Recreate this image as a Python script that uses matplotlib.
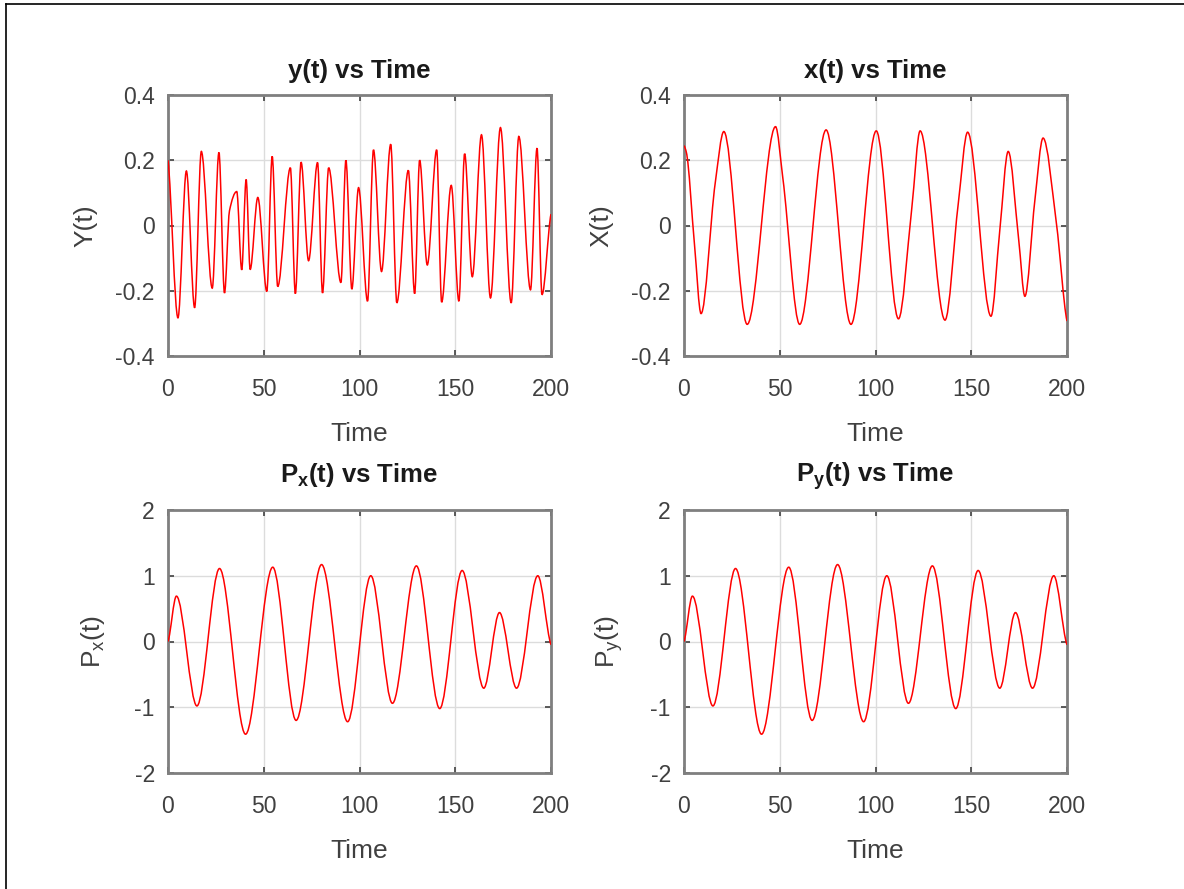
import numpy as np
import matplotlib
matplotlib.use("Agg")
import matplotlib.pyplot as plt
from matplotlib.path import Path
from matplotlib.patches import PathPatch
from matplotlib.lines import Line2D

plt.rcParams['font.family'] = ['Liberation Sans', 'DejaVu Sans']
plt.rcParams['mathtext.default'] = 'regular'
plt.rcParams['axes.unicode_minus'] = False

# ---- data (turning points / shoulders of each curve) ----
y_time = [0, 5.2, 9.6, 13.9, 17.4, 23.1, 26.6, 29.5, 32.1, 35.9, 38.5, 40.8, 42.9,
          46.9, 51.6, 54.4, 57.3, 63.9, 66.5, 69.5, 73.4, 78.1, 80.7, 83.9, 90.3,
          92.9, 96.0, 99.5, 104.2, 107.3, 111.5, 116.3, 119.5, 125.5, 128.8, 131.4,
          135.4, 140.3, 142.9, 147.9, 151.9, 154.9, 158.9, 163.7, 168.4, 173.6,
          179.2, 183.2, 189.3, 192.7, 195.3, 200]
y_vals = [0.20, -0.283, 0.167, -0.252, 0.227, -0.192, 0.224, -0.207, 0.045, 0.104,
          -0.136, 0.141, -0.135, 0.086, -0.202, 0.212, -0.187, 0.177, -0.209, 0.194,
          -0.108, 0.193, -0.207, 0.177, -0.175, 0.200, -0.195, 0.116, -0.232, 0.232,
          -0.141, 0.249, -0.237, 0.169, -0.209, 0.200, -0.121, 0.232, -0.235, 0.123,
          -0.232, 0.220, -0.157, 0.278, -0.222, 0.300, -0.237, 0.273, -0.197, 0.237,
          -0.212, 0.035]

x_time = [0, 1.2, 5.5, 8.9, 16.3, 20.8, 33.0, 47.8, 51.6, 60.4, 74.2, 87.2, 100.4,
          112.0, 118.9, 123.3, 136.3, 143.2, 148.1, 160.3, 164.9, 169.3, 174.8,
          178.0, 183.2, 187.5, 194.5, 200]
x_vals = [0.245, 0.225, -0.06, -0.270, 0.130, 0.288, -0.303, 0.303, 0.146, -0.303,
          0.293, -0.303, 0.290, -0.286, 0.050, 0.290, -0.290, 0.066, 0.286, -0.278,
          -0.015, 0.227, -0.045, -0.217, 0.076, 0.268, 0.005, -0.293]

px_time = [0, 4.4, 15.1, 26.9, 40.5, 54.7, 66.9, 80.2, 93.8, 105.9, 117.2, 129.7,
           141.9, 153.6, 164.9, 173.1, 182.0, 193.1, 200]
px_vals = [0.0, 0.69, -0.98, 1.11, -1.41, 1.13, -1.20, 1.17, -1.22, 1.00, -0.94,
           1.15, -1.02, 1.08, -0.71, 0.44, -0.71, 1.00, -0.05]

py_time = [0, 4.4, 15.1, 26.9, 40.5, 54.7, 66.9, 80.2, 93.8, 105.9, 117.2, 129.7,
           141.9, 153.6, 164.9, 173.1, 182.0, 193.1, 200]
py_vals = [0.0, 0.69, -0.98, 1.11, -1.41, 1.13, -1.20, 1.17, -1.22, 1.00, -0.94,
           1.15, -1.02, 1.08, -0.71, 0.44, -0.71, 1.00, -0.05]

time_ticks = [0, 50, 100, 150, 200]
small_ticks = [-0.4, -0.2, 0, 0.2, 0.4]
small_labels = ['-0.4', '-0.2', '0', '0.2', '0.4']
big_ticks = [-2, -1, 0, 1, 2]
big_labels = ['-2', '-1', '0', '1', '2']


def smooth_path(t, v):
    """Monotone (PCHIP-style) cubic Bezier path through the read points."""
    t = np.asarray(t, float)
    v = np.asarray(v, float)
    h = np.diff(t)
    d = np.diff(v) / h
    m = np.zeros_like(v)
    for i in range(1, len(v) - 1):
        if d[i - 1] * d[i] <= 0:
            m[i] = 0.0
        else:
            w1 = 2 * h[i] + h[i - 1]
            w2 = h[i] + 2 * h[i - 1]
            m[i] = (w1 + w2) / (w1 / d[i - 1] + w2 / d[i])
    m[0] = d[0] * 0.5
    m[-1] = d[-1] * 0.5
    verts = [(t[0], v[0])]
    codes = [Path.MOVETO]
    for i in range(len(t) - 1):
        verts += [(t[i] + h[i] / 3, v[i] + m[i] * h[i] / 3),
                  (t[i + 1] - h[i] / 3, v[i + 1] - m[i + 1] * h[i] / 3),
                  (t[i + 1], v[i + 1])]
        codes += [Path.CURVE4] * 3
    return Path(verts, codes)


fig = plt.figure(figsize=(11.84, 8.89), dpi=100)
W, H = 1184, 889


def make_ax(l, r, top, bot):
    return fig.add_axes([l / W, 1 - bot / H, (r - l) / W, (bot - top) / H])


panels = [
    (make_ax(168, 551, 95, 356), y_time, y_vals, 'y(t) vs Time', 'Y(t)', small_ticks, small_labels, 0.4, 12, -0.185),
    (make_ax(684, 1067, 95, 356), x_time, x_vals, 'x(t) vs Time', 'X(t)', small_ticks, small_labels, 0.4, 12, -0.185),
    (make_ax(168, 551, 510, 773), px_time, px_vals, 'P$_x$(t) vs Time', 'P$_x$(t)', big_ticks, big_labels, 2, 20, -0.158),
    (make_ax(684, 1067, 510, 773), py_time, py_vals, 'P$_y$(t) vs Time', 'P$_y$(t)', big_ticks, big_labels, 2, 20, -0.155),
]

box_col = '#7f7f7f'
txt_col = '#404040'
for ax, tt, vv, title, ylab, yt, ytl, lim, tpad, ylx in panels:
    patch = PathPatch(smooth_path(tt, vv), facecolor='none', edgecolor='#ff0000',
                      linewidth=1.1, transform=ax.transData, zorder=3)
    ax.add_patch(patch)
    ax.set_xlim(0, 200)
    ax.set_ylim(-lim, lim)
    ax.set_xticks(time_ticks)
    ax.set_xticklabels([str(v) for v in time_ticks])
    ax.set_yticks(yt)
    ax.set_yticklabels(ytl)
    ax.grid(True, color='#dcdcdc', linewidth=1.0)
    ax.set_axisbelow(True)
    for s in ax.spines.values():
        s.set_color(box_col)
        s.set_linewidth(2.0)
    ax.tick_params(direction='in', length=4, width=1.2, color='#404040',
                   top=True, right=True, labelsize=16.5, labelcolor=txt_col)
    ax.tick_params(axis='x', pad=16)
    ax.tick_params(axis='y', pad=9.5)
    ax.set_title(title, fontsize=18.5, fontweight='bold', color='#1a1a1a', pad=tpad)
    ax.set_xlabel('Time', fontsize=19, color=txt_col, labelpad=15)
    ax.set_ylabel(ylab, fontsize=19, color=txt_col)
    ax.yaxis.set_label_coords(ylx, 0.5)

# screenshot frame (left and top edges)
fig.add_artist(Line2D([6 / W, 6 / W], [0, 1 - 4 / H], transform=fig.transFigure,
                      color='black', linewidth=1.2))
fig.add_artist(Line2D([6 / W, 1], [1 - 4 / H, 1 - 4 / H], transform=fig.transFigure,
                      color='black', linewidth=1.2))

fig.savefig('out.png', dpi=100, facecolor='white')
